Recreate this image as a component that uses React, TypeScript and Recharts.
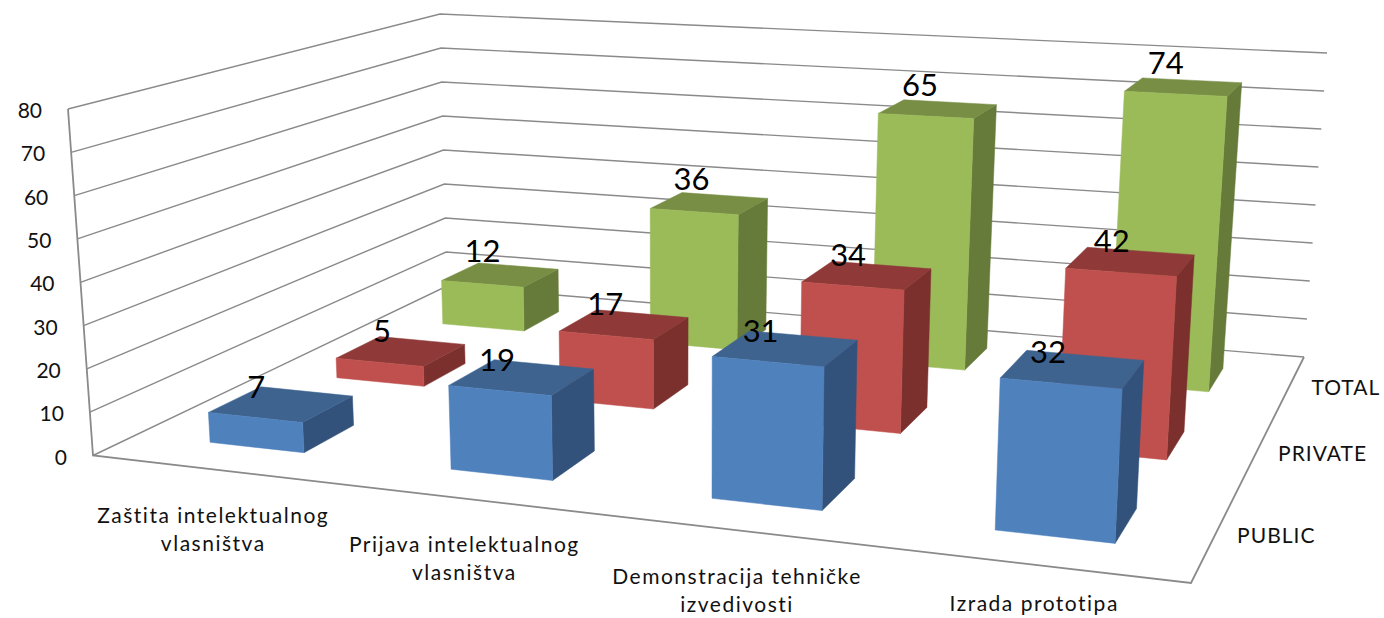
import {Bar, BarChart, CartesianGrid, XAxis, YAxis} from 'recharts';

const categories = ['Zaštita intelektualnog\nvlasništva', 'Prijava intelektualnog\nvlasništva', 'Demonstracija tehničke\nizvedivosti', 'Izrada prototipa'];
const publicValues = [7, 19, 31, 32];
const privateValues = [5, 17, 34, 42];
const totalValues = [12, 36, 65, 74];
const seriesNames = ['PUBLIC', 'PRIVATE', 'TOTAL'];
const valueTicks = [0, 10, 20, 30, 40, 50, 60, 70, 80];
const depthTicks = [0.5, 1.5, 2.5];

const W = 1384;
const H = 618;
const BAR_SIZE = 138;
const DEPTH_SIZE = 0.13;
const FONT = 'Lato, sans-serif';
const GRID = '#8a8a8a';

const data = categories.map((name, i) => ({
  name,
  public: publicValues[i],
  private: privateValues[i],
  total: totalValues[i],
}));

type Pt = [number, number];

// unit square -> quad, corners in order front-left, front-right, back-right, back-left
function homography([p0, p1, p2, p3]: Pt[]) {
  const dx1 = p1[0] - p2[0], dx2 = p3[0] - p2[0], sx = p0[0] - p1[0] + p2[0] - p3[0];
  const dy1 = p1[1] - p2[1], dy2 = p3[1] - p2[1], sy = p0[1] - p1[1] + p2[1] - p3[1];
  const den = dx1 * dy2 - dx2 * dy1;
  const g = (sx * dy2 - dx2 * sy) / den;
  const h = (dx1 * sy - sx * dy1) / den;
  const a = p1[0] - p0[0] + g * p1[0], b = p3[0] - p0[0] + h * p3[0];
  const d = p1[1] - p0[1] + g * p1[1], e = p3[1] - p0[1] + h * p3[1];
  return (u: number, v: number): Pt => {
    const w = g * u + h * v + 1;
    return [(a * u + b * v + p0[0]) / w, (d * u + e * v + p0[1]) / w];
  };
}

const floor = homography([[93, 455.5], [1191, 583], [1304, 357], [447, 286]]);
const ceiling = homography([[68, 109], [1212, 180], [1327, 53], [440, 14]]);

// u along categories, d along depth, t along the value axis, all 0..1
function project(u: number, d: number, t: number): Pt {
  const f = floor(u, d);
  const c = ceiling(u, d);
  return [f[0] + (c[0] - f[0]) * t, f[1] + (c[1] - f[1]) * t];
}

const poly = (pts: Pt[]) => pts.map((p) => p.map((n) => n.toFixed(1)).join(',')).join(' ');
const toU = (px: number) => (px / W) * 0.998 + 0.004;

function box(props: any, depthIndex: number, colors: string[], labelOffset: Pt) {
  const {x, y, width, value} = props;
  const u0 = toU(x);
  const u1 = toU(x + width);
  const t = 1 - y / H;
  const d0 = (depthIndex + 0.5) / 3 - 0.067;
  const d1 = d0 + DEPTH_SIZE;
  const [front, top, side] = colors;
  const labelPos = project((u0 + u1) / 2, (d0 + d1) / 2, t);
  return (
    <g>
      <polygon points={poly([project(u1, d0, 0), project(u1, d1, 0), project(u1, d1, t), project(u1, d0, t)])} fill={side} stroke={side} strokeWidth={0.5} />
      <polygon points={poly([project(u0, d0, t), project(u1, d0, t), project(u1, d1, t), project(u0, d1, t)])} fill={top} stroke={top} strokeWidth={0.5} />
      <polygon points={poly([project(u0, d0, 0), project(u1, d0, 0), project(u1, d0, t), project(u0, d0, t)])} fill={front} stroke={front} strokeWidth={0.5} />
      <text x={labelPos[0] + labelOffset[0]} y={labelPos[1] + labelOffset[1]} textAnchor="middle" dominantBaseline="central" fontFamily={FONT} fontSize={31} fill="#000">
        {value}
      </text>
    </g>
  );
}

function gridLine(props: any) {
  const t = 1 - props.y1 / H;
  const isFloor = t < 0.001;
  return (
    <g key={props.key}>
      <polyline points={poly([project(0, 0, t), project(0, 1, t), project(1, 1, t)])} fill="none" stroke={GRID} strokeWidth={1.4} />
      {isFloor && (
        <polyline points={poly([project(0, 0, 1), project(0, 0, 0), project(1, 0, 0), project(1, 1, 0)])} fill="none" stroke={GRID} strokeWidth={1.8} />
      )}
    </g>
  );
}

function ValueTick(props: any) {
  const p = project(0, 0, 1 - props.y / H);
  return (
    <text x={p[0] - 26} y={p[1] + 0.5} textAnchor="end" dominantBaseline="central" fontFamily={FONT} fontSize={21} fill="#111">
      {props.payload.value}
    </text>
  );
}

function CategoryTick(props: any) {
  const p = project(props.x / W, 0, 0);
  const lines = String(props.payload.value).split('\n');
  const baseY = p[1] + (lines.length > 1 ? 54 : 46);
  return (
    <text textAnchor="middle" fontFamily={FONT} fontSize={21} letterSpacing={1.5} fill="#111">
      {lines.map((line, i) => (
        <tspan key={line} x={p[0] + 2} y={baseY + i * 28}>
          {line}
        </tspan>
      ))}
    </text>
  );
}

function DepthTick(props: any) {
  const p = project(1, props.x / W, 0);
  return (
    <text x={p[0] + 22} y={p[1]} textAnchor="start" dominantBaseline="central" fontFamily={FONT} fontSize={21} letterSpacing={1} fill="#111">
      {seriesNames[props.index]}
    </text>
  );
}

export default function App() {
  return (
    <div style={{position: 'absolute', left: 0, top: 0, background: '#fff'}}>
      <BarChart width={W} height={H} data={data} margin={{top: 0, right: 0, bottom: -2, left: -1}} barSize={BAR_SIZE} barGap={-BAR_SIZE}>
        <CartesianGrid vertical={false} horizontal={gridLine} />
        <XAxis dataKey="name" height={1} axisLine={false} tickLine={false} interval={0} tick={CategoryTick} />
        <XAxis xAxisId="depth" type="number" domain={[0, 3]} ticks={depthTicks} height={1} axisLine={false} tickLine={false} interval={0} tick={DepthTick} />
        <YAxis domain={[0, 80]} ticks={valueTicks} width={1} axisLine={false} tickLine={false} interval={0} tick={ValueTick} />
        <Bar dataKey="total" isAnimationActive={false} shape={(p: any) => box(p, 2, ['#9BBB59', '#778E44', '#667A3A'], [-18, -25])} />
        <Bar dataKey="private" isAnimationActive={false} shape={(p: any) => box(p, 1, ['#C0504D', '#8F3A38', '#7B302E'], [-19, -21])} />
        <Bar dataKey="public" isAnimationActive={false} shape={(p: any) => box(p, 0, ['#4F81BD', '#3E638F', '#32527B'], [-25, -18])} />
      </BarChart>
    </div>
  );
}
